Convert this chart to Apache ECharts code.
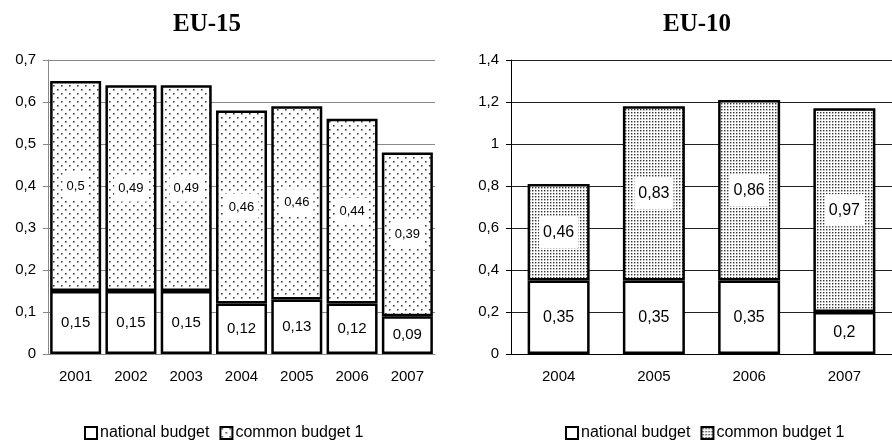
<!DOCTYPE html>
<html>
<head>
<meta charset="utf-8">
<script src="https://cdn.jsdelivr.net/npm/echarts@6/dist/echarts.min.js"></script>
<style>
  html, body { margin: 0; padding: 0; background: #fff; }
  #main_container { width: 892px; height: 441px; overflow: hidden; }
</style>
</head>
<body>
<div id="main_container"></div>
<script>
// data
var years15 = ["2001", "2002", "2003", "2004", "2005", "2006", "2007"];
var national15 = [0.15, 0.15, 0.15, 0.12, 0.13, 0.12, 0.09];
var common15 = [0.5, 0.49, 0.49, 0.46, 0.46, 0.44, 0.39];

var years10 = ["2004", "2005", "2006", "2007"];
var national10 = [0.35, 0.35, 0.35, 0.2];
var common10 = [0.46, 0.83, 0.86, 0.97];

var FONT = "Arial, 'Liberation Sans', sans-serif";

// dotted fills
function makeDots(size, dots, dotColor, dotSize) {
  var c = document.createElement("canvas");
  c.width = size;
  c.height = size;
  var ctx = c.getContext("2d");
  ctx.fillStyle = "#fff";
  ctx.fillRect(0, 0, size, size);
  ctx.fillStyle = dotColor;
  dots.forEach(function (d) {
    ctx.fillRect(d[0], d[1], dotSize, dotSize);
  });
  return { image: c, repeat: "repeat" };
}
var sparse = makeDots(8, [[1, 1], [5, 5]], "#444", 1.6);
var dense = makeDots(3, [[1, 1]], "#333", 1.4);

function comma(p) {
  var v = typeof p === "object" ? p.value : p;
  return String(+(+v).toFixed(2)).replace(".", ",");
}

var myChart = echarts.init(document.getElementById("main_container"));
myChart.setOption({
  animation: false,
  title: [
    {
      text: "EU-15",
      left: 202,
      top: 7,
      textAlign: "center",
      textStyle: { fontFamily: "'Times New Roman', 'Liberation Serif', serif", fontWeight: "bold", fontSize: 25, color: "#000" },
    },
    {
      text: "EU-10",
      left: 692,
      top: 7,
      textAlign: "center",
      textStyle: { fontFamily: "'Times New Roman', 'Liberation Serif', serif", fontWeight: "bold", fontSize: 25, color: "#000" },
    },
  ],
  legend: [
    {
      left: 79,
      top: 420,
      itemWidth: 12,
      itemHeight: 12,
      itemGap: 10,
      textStyle: { fontFamily: FONT, fontSize: 16, color: "#000", padding: [0, 0, 0, -2] },
      data: [
        { name: "national budget", icon: "rect", itemStyle: { color: "#fff", borderColor: "#000", borderWidth: 2 } },
        { name: "common budget 1", icon: "rect", itemStyle: { color: sparse, borderColor: "#000", borderWidth: 2 } },
      ],
    },
    {
      left: 560,
      top: 420,
      itemWidth: 12,
      itemHeight: 12,
      itemGap: 10,
      textStyle: { fontFamily: FONT, fontSize: 16, color: "#000", padding: [0, 0, 0, -2] },
      data: [
        { name: "national budget", icon: "rect", itemStyle: { color: "#fff", borderColor: "#000", borderWidth: 2 } },
        { name: "common budget 1", icon: "rect", itemStyle: { color: dense, borderColor: "#000", borderWidth: 2 } },
      ],
    },
  ],
  grid: [
    { left: 48, top: 60, width: 387, height: 294 },
    { left: 511, top: 60, width: 393, height: 294 },
  ],
  xAxis: [
    {
      type: "category",
      gridIndex: 0,
      data: years15,
      axisLine: { lineStyle: { color: "#888", width: 1 } },
      axisTick: { length: 5, lineStyle: { color: "#888" } },
      axisLabel: { fontFamily: FONT, fontSize: 15, color: "#000", margin: 15 },
    },
    {
      type: "category",
      gridIndex: 1,
      data: years10,
      axisLine: { lineStyle: { color: "#000", width: 1 } },
      axisTick: { length: 5, lineStyle: { color: "#000" } },
      axisLabel: { fontFamily: FONT, fontSize: 15, color: "#000", margin: 15 },
    },
  ],
  yAxis: [
    {
      type: "value",
      gridIndex: 0,
      min: 0,
      max: 0.7,
      interval: 0.1,
      axisLine: { show: true, lineStyle: { color: "#888" } },
      axisTick: { show: true, length: 5, lineStyle: { color: "#888" } },
      splitLine: { lineStyle: { color: "#888", width: 1 } },
      axisLabel: { fontFamily: FONT, fontSize: 15, color: "#000", margin: 12, formatter: comma },
    },
    {
      type: "value",
      gridIndex: 1,
      min: 0,
      max: 1.4,
      interval: 0.2,
      axisLine: { show: true, lineStyle: { color: "#000" } },
      axisTick: { show: true, length: 5, lineStyle: { color: "#000" } },
      splitLine: { lineStyle: { color: "#222", width: 1 } },
      axisLabel: { fontFamily: FONT, fontSize: 15, color: "#000", margin: 12, formatter: comma },
    },
  ],
  series: [
    {
      name: "national budget",
      type: "bar",
      xAxisIndex: 0,
      yAxisIndex: 0,
      stack: "eu15",
      barWidth: 51,
      data: national15,
      itemStyle: { color: "#fff", borderColor: "#000", borderWidth: 2.5 },
      label: { show: true, position: "inside", formatter: comma, fontFamily: FONT, fontSize: 15, color: "#000" },
    },
    {
      name: "common budget 1",
      type: "bar",
      xAxisIndex: 0,
      yAxisIndex: 0,
      stack: "eu15",
      barWidth: 51,
      data: common15,
      itemStyle: { color: sparse, borderColor: "#000", borderWidth: 2.5 },
      label: {
        show: true,
        position: "inside",
        formatter: comma,
        fontFamily: FONT,
        fontSize: 13,
        color: "#000",
        backgroundColor: "#fff",
        padding: [7, 4],
      },
    },
    {
      name: "national budget",
      type: "bar",
      xAxisIndex: 1,
      yAxisIndex: 1,
      stack: "eu10",
      barWidth: 62,
      data: national10,
      itemStyle: { color: "#fff", borderColor: "#000", borderWidth: 2.5 },
      label: { show: true, position: "inside", formatter: comma, fontFamily: FONT, fontSize: 16, color: "#000" },
    },
    {
      name: "common budget 1",
      type: "bar",
      xAxisIndex: 1,
      yAxisIndex: 1,
      stack: "eu10",
      barWidth: 62,
      data: common10,
      itemStyle: { color: dense, borderColor: "#000", borderWidth: 2.5 },
      label: {
        show: true,
        position: "inside",
        formatter: comma,
        fontFamily: FONT,
        fontSize: 16,
        color: "#000",
        backgroundColor: "#fff",
        padding: [8, 4],
      },
    },
  ],
});
</script>
</body>
</html>
